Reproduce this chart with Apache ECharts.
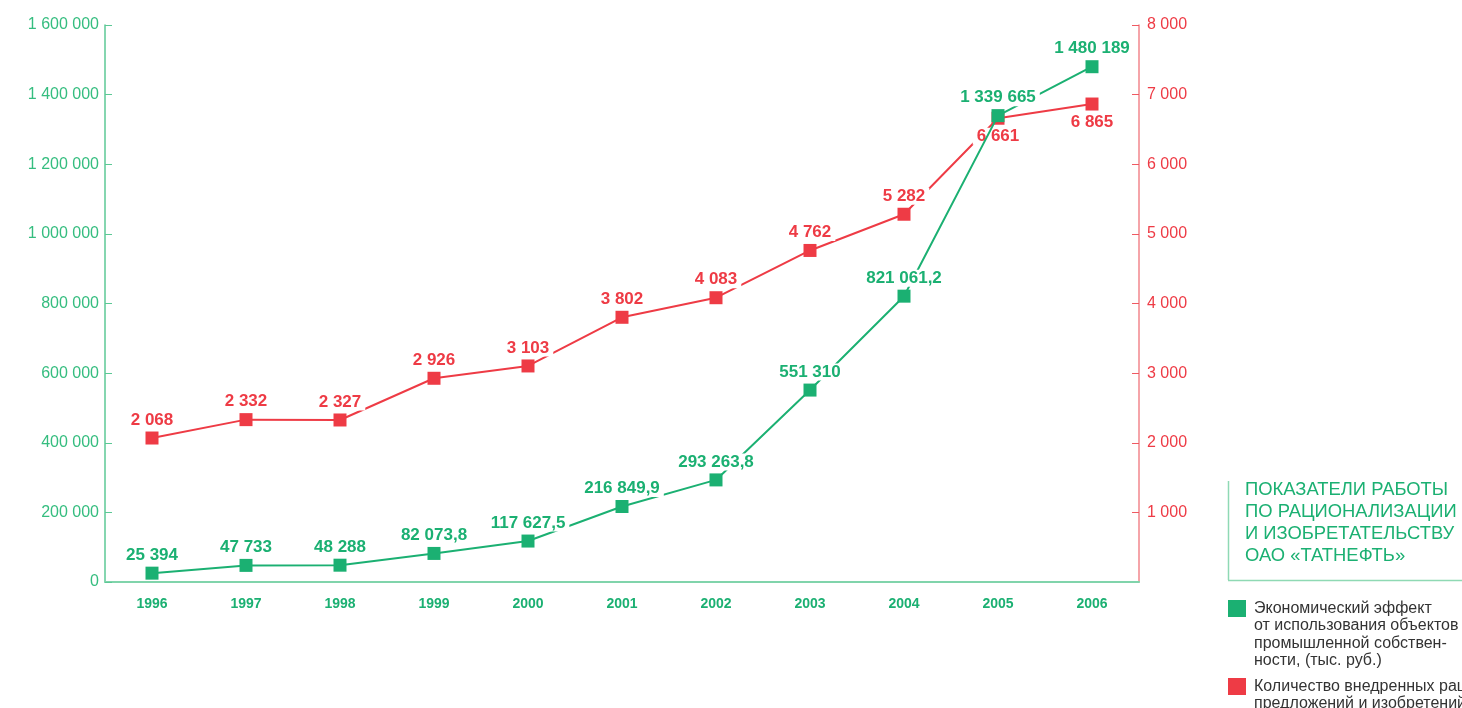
<!DOCTYPE html>
<html>
<head>
<meta charset="utf-8">
<script src="https://cdn.jsdelivr.net/npm/echarts@6/dist/echarts.min.js"></script>
<style>
  html, body { margin: 0; padding: 0; background: #fff; }
  #chart { width: 1462px; height: 708px; }
</style>
</head>
<body>
<div id="chart"></div>
<script>
  const years = ['1996', '1997', '1998', '1999', '2000', '2001', '2002', '2003', '2004', '2005', '2006'];
  // экономический эффект, тыс. руб.
  const effectValues = [25394, 47733, 48288, 82073.8, 117627.5, 216849.9, 293263.8, 551310, 821061.2, 1339665, 1480189];
  // количество внедренных предложений
  const countValues = [2068, 2332, 2327, 2926, 3103, 3802, 4083, 4762, 5282, 6661, 6865];

  const effectName = 'Экономический эффект\nот использования объектов\nпромышленной собствен-\nности, (тыс. руб.)';
  const countName = 'Количество внедренных рац.\nпредложений и изобретений';
  const titleText = 'ПОКАЗАТЕЛИ РАБОТЫ\nПО РАЦИОНАЛИЗАЦИИ\nИ ИЗОБРЕТАТЕЛЬСТВУ\nОАО «ТАТНЕФТЬ»';

  const green = '#1bb072';
  const red = '#ee3b45';
  const font = "'Liberation Sans', Arial, Helvetica, sans-serif";

  // 1480189 -> "1 480 189", 82073.8 -> "82 073,8"
  const fmt = (v) => {
    const parts = String(v).split('.');
    const intPart = parts[0].replace(/\B(?=(\d{3})+(?!\d))/g, ' ');
    return parts[1] ? intPart + ',' + parts[1] : intPart;
  };

  const chart = echarts.init(document.getElementById('chart'));

  const dataLabel = (color) => ({
    show: true,
    position: 'top',
    distance: 3,
    color: color,
    fontFamily: font,
    fontSize: 17,
    fontWeight: 'bold',
    backgroundColor: '#fff',
    padding: [0, 4],
    formatter: (p) => fmt(p.value)
  });

  const option = {
    animation: false,
    textStyle: { fontFamily: font },
    grid: { left: 105, right: 323, top: 25, bottom: 126 },
    xAxis: {
      type: 'category',
      data: years,
      boundaryGap: true,
      axisLine: { lineStyle: { color: '#80d4ab', width: 2 } },
      axisTick: { inside: true, length: 6, lineStyle: { color: '#3fbf84' } },
      axisLabel: { color: green, fontSize: 14, fontWeight: 'bold', margin: 15 }
    },
    yAxis: [
      {
        type: 'value',
        min: 0,
        max: 1600000,
        interval: 200000,
        position: 'left',
        axisLine: { show: true, lineStyle: { color: '#5cc896', width: 1.5 } },
        axisTick: { show: true, inside: true, length: 7, lineStyle: { color: '#5cc896' } },
        splitLine: { show: false },
        axisLabel: { color: '#35bd7f', fontSize: 16, margin: 6, formatter: fmt }
      },
      {
        type: 'value',
        min: 0,
        max: 8000,
        interval: 1000,
        position: 'right',
        axisLine: { show: true, lineStyle: { color: '#f2868d', width: 1.5 } },
        axisTick: { show: true, inside: true, length: 7, lineStyle: { color: '#ef5a62' } },
        splitLine: { show: false },
        axisLabel: { color: red, fontSize: 16, margin: 8, showMinLabel: false, formatter: fmt }
      }
    ],
    series: [
      {
        name: countName,
        type: 'line',
        yAxisIndex: 1,
        data: countValues.map((v, i) => ({
          value: v,
          label: i >= 9 ? { position: 'bottom' } : undefined
        })),
        symbol: 'rect',
        symbolSize: 13,
        itemStyle: { color: red },
        lineStyle: { color: red, width: 2 },
        label: dataLabel(red),
        z: 3
      },
      {
        name: effectName,
        type: 'line',
        yAxisIndex: 0,
        data: effectValues,
        symbol: 'rect',
        symbolSize: 13,
        itemStyle: { color: green },
        lineStyle: { color: green, width: 2 },
        label: dataLabel(green),
        z: 4
      }
    ],
    title: {
      text: titleText,
      left: 1245,
      top: 479,
      padding: 0,
      textStyle: {
        color: green,
        fontFamily: font,
        fontSize: 18.4,
        fontWeight: 'normal',
        lineHeight: 22
      }
    },
    graphic: [
      // рамка заголовка
      { type: 'line', shape: { x1: 1228.5, y1: 481, x2: 1228.5, y2: 580 }, style: { stroke: '#8fd9b4', lineWidth: 1.5 } },
      { type: 'line', shape: { x1: 1228, y1: 580.5, x2: 1462, y2: 580.5 }, style: { stroke: '#8fd9b4', lineWidth: 1.5 } },
      // легенда
      { type: 'rect', shape: { x: 1228, y: 600, width: 18, height: 17 }, style: { fill: green } },
      { type: 'text', x: 1254, y: 600, style: { text: effectName, fill: '#333', font: '16px ' + font, lineHeight: 17.3 } },
      { type: 'rect', shape: { x: 1228, y: 678, width: 18, height: 17 }, style: { fill: red } },
      { type: 'text', x: 1254, y: 678, style: { text: countName, fill: '#333', font: '16px ' + font, lineHeight: 17.3 } }
    ]
  };

  chart.setOption(option);
</script>
</body>
</html>
